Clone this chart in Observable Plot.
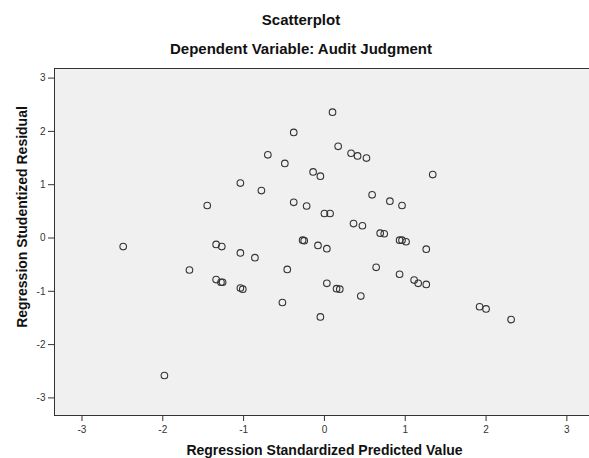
<!DOCTYPE html>
<html>
<head>
<meta charset="utf-8">
<script src="https://cdn.jsdelivr.net/npm/d3@7"></script>
<script src="https://cdn.jsdelivr.net/npm/@observablehq/plot@0.6"></script>
<style>
  html, body { margin: 0; padding: 0; background: #ffffff; }
  #wrap { position: relative; width: 589px; height: 458px; }
  #chart svg { display: block; font-family: "Liberation Sans", Arial, sans-serif; }
  #ylabel {
    position: absolute; left: 22px; top: 217px;
    transform: translate(-50%, -50%) rotate(-90deg);
    white-space: nowrap;
    font: bold 14px "Liberation Sans", Arial, sans-serif;
    color: #111;
  }
</style>
</head>
<body>
<div id="wrap">
  <div id="chart"></div>
  <div id="ylabel"></div>
</div>
<script>
const chartTitle = "Scatterplot";
const chartSubtitle = "Dependent Variable: Audit Judgment";
const xLabel = "Regression Standardized Predicted Value";
const yLabel = "Regression Studentized Residual";
const xTicks = [-3, -2, -1, 0, 1, 2, 3];
const yTicks = [-3, -2, -1, 0, 1, 2, 3];
const xDomain = [-3.34, 3.28];
const yDomain = [-3.33, 3.18];

const predicted = [
  -0.38, -0.70, -0.49, -1.04, -0.78, -1.45, -0.38, -0.22, -0.14, -0.05,
  -2.49, -1.34, -1.27, -1.04, -0.86, -0.27, -0.25, -0.08,  0.10,  0.17,
   0.33,  0.41,  0.52,  1.34,  0.59,  0.81,  0.96,  0.00,  0.07,  0.36,
   0.47,  0.69,  0.74,  0.93,  0.96,  1.01,  0.03,  1.26, -1.67, -0.46,
  -1.34, -1.28, -1.26, -1.04, -1.01, -0.52, -1.98, -0.05,  0.64,  0.93,
   0.03,  0.15,  0.19,  0.45,  1.11,  1.16,  1.26,  1.92,  2.00,  2.31
];
const residual = [
   1.98,  1.56,  1.40,  1.03,  0.89,  0.61,  0.67,  0.60,  1.24,  1.16,
  -0.16, -0.12, -0.16, -0.28, -0.37, -0.04, -0.05, -0.14,  2.36,  1.72,
   1.59,  1.54,  1.50,  1.19,  0.81,  0.69,  0.61,  0.46,  0.46,  0.27,
   0.23,  0.09,  0.08, -0.04, -0.04, -0.07, -0.20, -0.21, -0.60, -0.59,
  -0.78, -0.83, -0.83, -0.94, -0.96, -1.21, -2.58, -1.48, -0.55, -0.68,
  -0.85, -0.95, -0.96, -1.09, -0.79, -0.85, -0.87, -1.29, -1.33, -1.53
];

const points = predicted.map((x, i) => ({x, y: residual[i]}));
const fmt = d => String(d);

const plot = Plot.plot({
  width: 589,
  height: 458,
  marginTop: 68,
  marginBottom: 43,
  marginLeft: 54,
  marginRight: 0,
  style: {fontFamily: '"Liberation Sans", Arial, sans-serif', background: "#ffffff"},
  x: {domain: xDomain, label: null},
  y: {domain: yDomain, label: null},
  marks: [
    Plot.frame({fill: "#f0f0f0", stroke: null}),
    Plot.axisX({ticks: xTicks, tickFormat: fmt, tickSize: 6, tickPadding: 4, fontSize: 10, stroke: "#333", color: "#333", label: null}),
    Plot.axisY({ticks: yTicks, tickFormat: fmt, tickSize: 6, tickPadding: 3, fontSize: 10, stroke: "#333", color: "#333", label: null}),
    Plot.ruleX([xDomain[0]], {stroke: "#333", strokeWidth: 1}),
    Plot.ruleY([yDomain[0]], {stroke: "#333", strokeWidth: 1}),
    Plot.ruleY([yDomain[1]], {stroke: "#333", strokeWidth: 1}),
    Plot.dot(points, {x: "x", y: "y", r: 3.3, stroke: "#333", strokeWidth: 1.1, fill: "none"}),
    Plot.text([chartTitle], {frameAnchor: "top", dx: -21, dy: -54, fontSize: 15, fontWeight: "bold", fill: "#111"}),
    Plot.text([chartSubtitle], {frameAnchor: "top", dx: -21, dy: -25, fontSize: 15, fontWeight: "bold", fill: "#111"}),
    Plot.text([xLabel], {frameAnchor: "bottom", dx: 2.5, dy: 39, fontSize: 14, fontWeight: "bold", fill: "#111"})
  ]
});
document.getElementById("chart").appendChild(plot);
document.getElementById("ylabel").textContent = yLabel;
</script>
</body>
</html>
